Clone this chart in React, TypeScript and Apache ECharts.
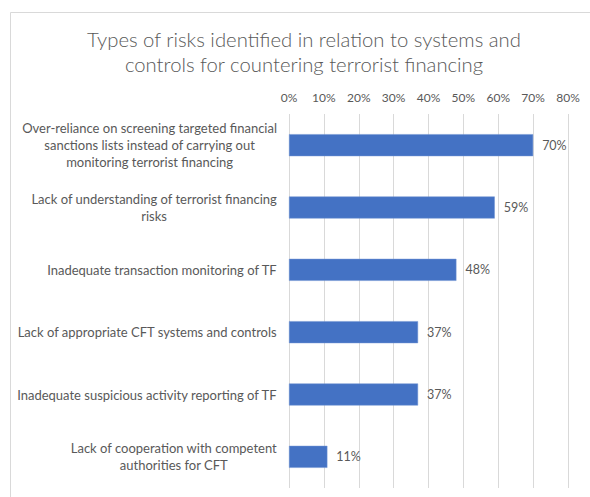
import React, { useEffect, useRef } from "react";
import * as echarts from "echarts";

const title = "Types of risks identified in relation to systems and\ncontrols for countering terrorist financing";
const categories = [
  "Over-reliance on screening targeted financial\nsanctions lists instead of carrying out\nmonitoring terrorist financing",
  "Lack of understanding of terrorist financing\nrisks",
  "Inadequate transaction monitoring of TF",
  "Lack of appropriate CFT systems and controls",
  "Inadequate suspicious activity reporting of TF",
  "Lack of cooperation with competent\nauthorities for CFT",
];
const values = [70, 59, 48, 37, 37, 11];
const axisMin = 0;
const axisMax = 80;
const axisInterval = 10;

const FONT = "Lato, 'Liberation Sans', sans-serif";
const TEXT = "#595959";

export default function App() {
  const ref = useRef<HTMLDivElement>(null);
  useEffect(() => {
    if (!ref.current) return;
    const chart = echarts.init(ref.current, null, { renderer: "svg" });
    chart.setOption({
      animation: false,
      backgroundColor: "#ffffff",
      textStyle: { fontFamily: FONT },
      graphic: [
        {
          type: "rect",
          shape: { x: 10.5, y: 12.5, width: 700, height: 600 },
          style: { fill: "none", stroke: "#d9d9d9", lineWidth: 1 },
          silent: true,
          z: -1,
        },
        {
          type: "text",
          style: {
            text: title,
            x: 304,
            y: 26,
            align: "center",
            fontFamily: FONT,
            fontSize: 20.3,
            fontWeight: 300,
            fill: TEXT,
            lineHeight: 25,
          },
        },
      ],
      grid: { left: 289, right: 22, top: 114, bottom: 9, containLabel: false },
      xAxis: {
        type: "value",
        position: "top",
        min: axisMin,
        max: axisMax,
        interval: axisInterval,
        axisLine: { show: false },
        axisTick: { show: false },
        axisLabel: {
          formatter: "{value}%",
          color: TEXT,
          fontSize: 12,
          fontFamily: FONT,
          margin: 11,
        },
        splitLine: { show: true, lineStyle: { color: "#d9d9d9", width: 1 } },
      },
      yAxis: {
        type: "category",
        inverse: true,
        data: categories,
        axisLine: { show: false },
        axisTick: { show: false },
        axisLabel: {
          margin: 12,
          align: "right",
          formatter: (v: string) => v.split("\n").map((l) => `{c|${l}}`).join("\n"),
          rich: {
            c: { align: "center", color: TEXT, fontSize: 13, fontFamily: FONT, lineHeight: 17 },
          },
        },
      },
      series: [
        {
          type: "bar",
          data: values,
          barWidth: 22,
          itemStyle: { color: "#4472c4", borderColor: "#6f93d3", borderWidth: 0.5 },
          label: {
            show: true,
            position: "right",
            distance: 9,
            formatter: "{c}%",
            color: TEXT,
            fontSize: 12.5,
            fontFamily: FONT,
          },
        },
      ],
    });
    return () => chart.dispose();
  }, []);
  return (
    <div
      ref={ref}
      style={{ position: "absolute", left: 0, top: 0, width: 590, height: 497 }}
    />
  );
}
